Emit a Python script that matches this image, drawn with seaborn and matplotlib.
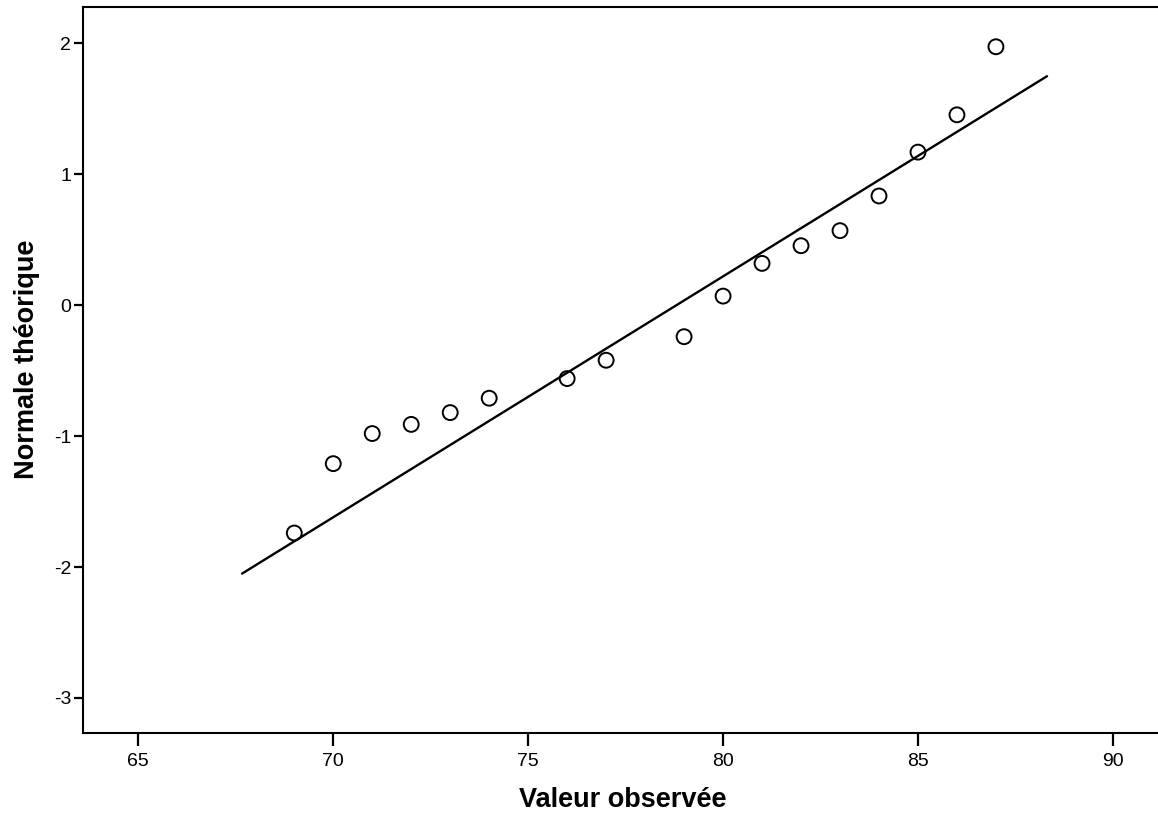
import matplotlib
matplotlib.use("Agg")
import matplotlib.pyplot as plt
import seaborn as sns
import pandas as pd

# Observed values and their theoretical normal quantiles
observed = [69, 70, 71, 72, 73, 74, 76, 77, 79, 80, 81, 82, 83, 84, 85, 86, 87]
theoretical = [-1.74, -1.21, -0.98, -0.91, -0.82, -0.71, -0.56, -0.42, -0.24,
               0.07, 0.32, 0.455, 0.57, 0.835, 1.17, 1.455, 1.975]

# Reference line of the fitted normal distribution
line_x = [67.66, 88.31]
line_y = [-2.05, 1.75]

x_ticks = [65, 70, 75, 80, 85, 90]
y_ticks = [-3, -2, -1, 0, 1, 2]

sns.set_theme(style="ticks")
plt.rcParams["font.family"] = ["Liberation Sans", "DejaVu Sans"]
plt.rcParams["text.color"] = "black"
plt.rcParams["axes.labelcolor"] = "black"

fig = plt.figure(figsize=(11.58, 8.23), dpi=100)
ax = fig.add_axes([83 / 1158, 1 - 733.3 / 823, (1162 - 83) / 1158, (733.3 - 6.7) / 823])

points = pd.DataFrame({"obs": observed, "theo": theoretical})
ref = pd.DataFrame({"x": line_x, "y": line_y})

sns.lineplot(data=ref, x="x", y="y", ax=ax, color="black", linewidth=1.7)
sns.scatterplot(data=points, x="obs", y="theo", ax=ax, s=115, marker="o",
                facecolor="none", edgecolor="black", linewidth=1.4, zorder=3)

ax.set_xlim(63.58, 91.26)
ax.set_ylim(-3.27, 2.281)
ax.set_xticks(x_ticks)
ax.set_yticks(y_ticks)
ax.set_xticklabels([str(v) for v in x_ticks])
ax.set_yticklabels([str(v) for v in y_ticks])

for side in ["left", "bottom", "top", "right"]:
    ax.spines[side].set_visible(True)
    ax.spines[side].set_color("black")
    ax.spines[side].set_linewidth(1.5)

ax.tick_params(axis="x", direction="out", length=9.5, width=1.6, pad=5,
               labelsize=14, colors="black")
ax.tick_params(axis="y", direction="out", length=6.5, width=1.6, pad=2,
               labelsize=14, colors="black")

ax.set_xlabel("Valeur observée", fontsize=19.5, fontweight="bold", labelpad=12)
ax.set_ylabel("Normale théorique", fontsize=19.5, fontweight="bold")
ax.yaxis.set_label_coords(-0.040, 0.515)

fig.savefig("out.png", dpi=100, facecolor="white")
